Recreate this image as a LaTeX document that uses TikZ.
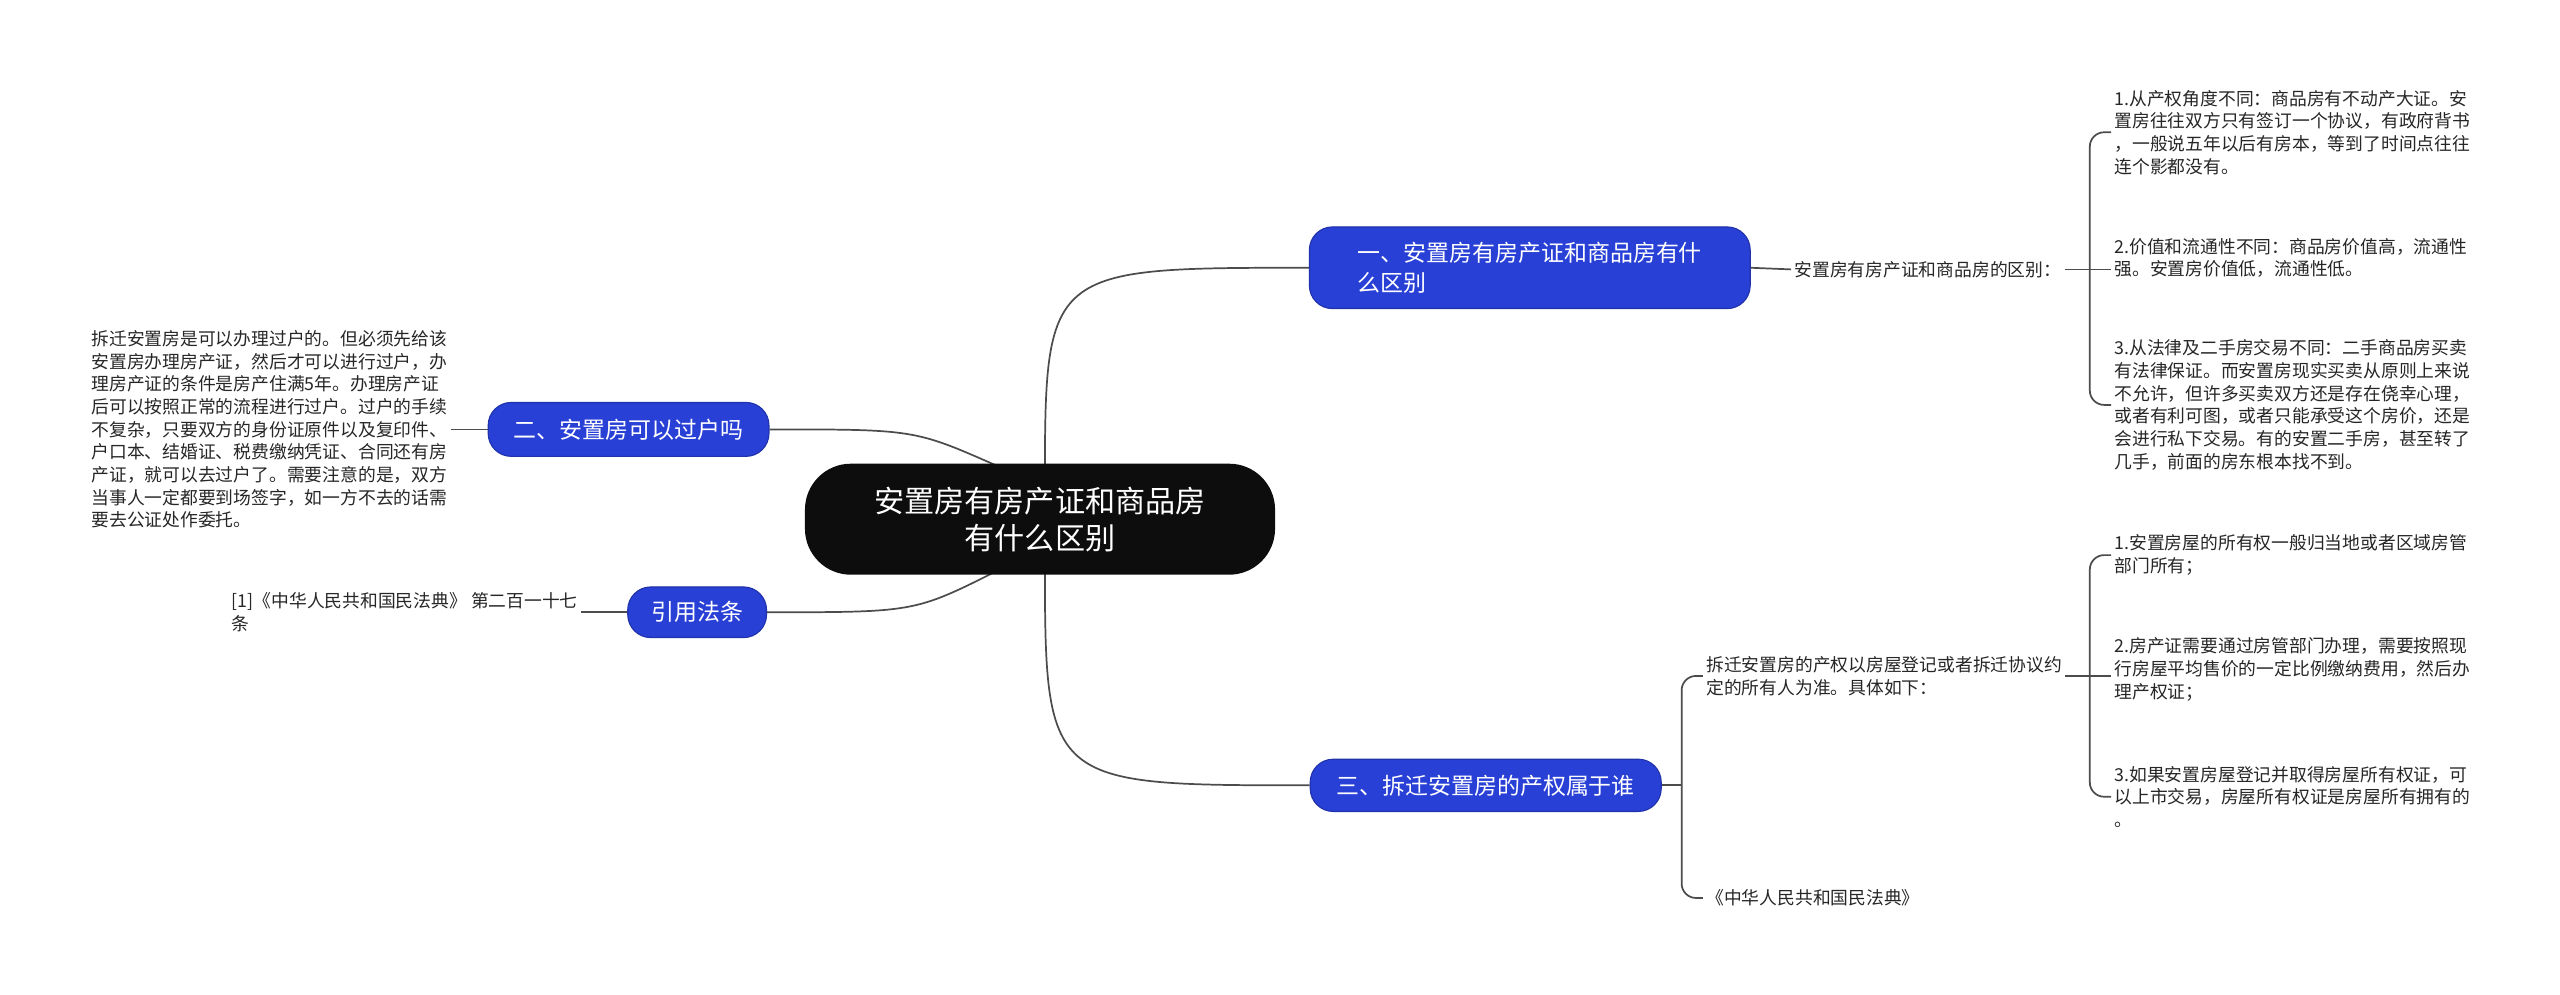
\documentclass[tikz,border=0pt]{standalone}
\usepackage{fontspec}
\setmainfont{Noto Sans CJK SC}
\usetikzlibrary{backgrounds}
\definecolor{topicblue}{RGB}{40,64,214}
\tikzset{
  root/.style={fill=black!95, text=white, rounded corners=16pt, font=\fontsize{10.5}{13}\selectfont, align=center, minimum width=5.76cm, minimum height=1.36cm},
  topic/.style={fill=topicblue, draw=topicblue!80!black, text=white, rounded corners=8pt, font=\fontsize{8}{10.5}\selectfont, align=left, inner xsep=8pt},
  leaf/.style={font=\fontsize{6.2}{7.9}\selectfont, align=left, anchor=west, inner sep=1pt, text=black!85},
  link/.style={draw=black!70, line width=0.6pt},
}
\begin{document}
\begin{tikzpicture}[x=0.02cm, y=-0.02cm]
\useasboundingbox (0,0) rectangle (1568,609);
\node[root] (ctr) at (637,318) {安置房有房产证和商品房\\有什么区别};
\node[topic, minimum width=5.4cm, minimum height=1cm] (diff) at (937,164) {一、安置房有房产证和商品房有什\\么区别};
\node[topic, minimum width=3.44cm, minimum height=0.66cm] (move) at (385,263) {二、安置房可以过户吗};
\node[topic, minimum width=1.7cm, minimum height=0.62cm] (law) at (427,375) {引用法条};
\node[topic, minimum width=4.3cm, minimum height=0.64cm] (own) at (910,481) {三、拆迁安置房的产权属于谁};
% first branch
\node[leaf] (diffsum) at (1097,165) {安置房有房产证和商品房的区别：};
\node[leaf] (diffa) at (1293,81) {1.从产权角度不同：商品房有不动产大证。安\\置房往往双方只有签订一个协议，有政府背书\\，一般说五年以后有房本，等到了时间点往往\\连个影都没有。};
\node[leaf] (diffb) at (1293,158) {2.价值和流通性不同：商品房价值高，流通性\\强。安置房价值低，流通性低。};
\node[leaf] (diffc) at (1293,248) {3.从法律及二手房交易不同：二手商品房买卖\\有法律保证。而安置房现实买卖从原则上来说\\不允许，但许多买卖双方还是存在侥幸心理，\\或者有利可图，或者只能承受这个房价，还是\\会进行私下交易。有的安置二手房，甚至转了\\几手，前面的房东根本找不到。};
% second branch
\node[leaf, anchor=east] (movetxt) at (276,263) {拆迁安置房是可以办理过户的。但必须先给该\\安置房办理房产证，然后才可以进行过户，办\\理房产证的条件是房产住满5年。办理房产证\\后可以按照正常的流程进行过户。过户的手续\\不复杂，只要双方的身份证原件以及复印件、\\户口本、结婚证、税费缴纳凭证、合同还有房\\产证，就可以去过户了。需要注意的是，双方\\当事人一定都要到场签字，如一方不去的话需\\要去公证处作委托。};
\node[leaf, anchor=east] (lawtxt) at (356,375) {[1]《中华人民共和国民法典》 第二百一十七\\条};
% third branch
\node[leaf] (ownsum) at (1043,414) {拆迁安置房的产权以房屋登记或者拆迁协议约\\定的所有人为准。具体如下：};
\node[leaf] (ownref) at (1043,550) {《中华人民共和国民法典》};
\node[leaf] (owna) at (1293,340) {1.安置房屋的所有权一般归当地或者区域房管\\部门所有；};
\node[leaf] (ownb) at (1293,410) {2.房产证需要通过房管部门办理，需要按照现\\行房屋平均售价的一定比例缴纳费用，然后办\\理产权证；};
\node[leaf] (ownc) at (1293,488) {3.如果安置房屋登记并取得房屋所有权证，可\\以上市交易，房屋所有权证是房屋所有拥有的\\。};
\coordinate (diffspine) at (1280,165);
\coordinate (ownspine) at (1030,481);
\coordinate (subspine) at (1280,414);
\begin{scope}[on background layer]
\draw[link] (640,300) .. controls (640,164) .. (diff.west);
\draw[link] (640,340) .. controls (640,481) .. (own.west);
\draw[link] (610,285) .. controls (560,263) .. (move.east);
\draw[link] (610,350) .. controls (560,375) .. (law.east);
\end{scope}
\draw[link] (diff.east) -- (diffsum.west);
\draw[link] (diffsum.east) -- (diffspine);
\draw[link, rounded corners=5pt] (diffa.west) -| (diffspine) |- (diffc.west);
\draw[link] (diffspine) -- (diffb.west |- diffspine);
\draw[link] (move.west) -- (movetxt.east |- move.west);
\draw[link] (law.west) -- (lawtxt.east |- law.west);
\draw[link] (own.east) -- (ownspine);
\draw[link, rounded corners=5pt] (ownsum.west) -| (ownspine) |- (ownref.west);
\draw[link] (ownsum.east) -- (subspine);
\draw[link, rounded corners=5pt] (owna.west) -| (subspine) |- (ownc.west);
\draw[link] (subspine) -- (ownb.west |- subspine);
\end{tikzpicture}
\end{document}
